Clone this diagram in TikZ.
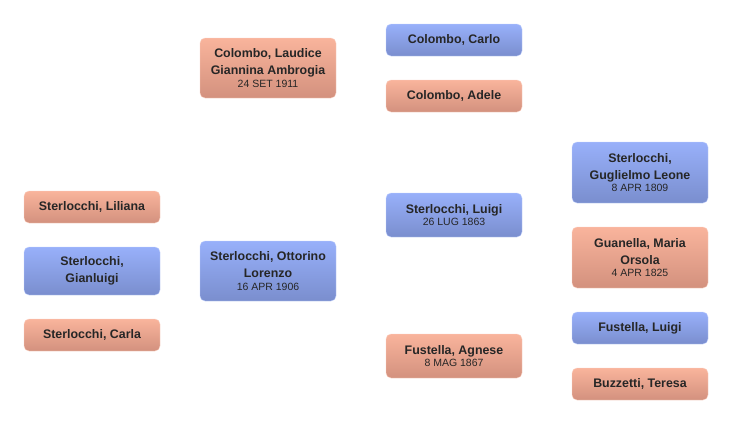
\documentclass[tikz,border=0pt]{standalone}
\usepackage{fontspec}
\setmainfont{Liberation Sans}
\begin{document}
\begin{tikzpicture}[x=1pt,y=-1pt,
  person/.style={rounded corners=5pt, minimum width=136pt, inner sep=0pt,
    align=center, font=\fontsize{12.4}{17}\selectfont\bfseries, text=black!85},
  male/.style={person, top color=mblueT, bottom color=mblueB, draw=mblueT!60!white, line width=0.4pt},
  female/.style={person, top color=fpinkT, bottom color=fpinkB, draw=fpinkT!60!white, line width=0.4pt}]
\definecolor{mblueT}{HTML}{98B0FA}
\definecolor{mblueB}{HTML}{7A8ECE}
\definecolor{fpinkT}{HTML}{F9B49C}
\definecolor{fpinkB}{HTML}{D3917E}
\newcommand{\dt}[1]{\\[-4.5pt]{\fontsize{10.5}{12}\selectfont\mdseries #1}}
\useasboundingbox (0,0) rectangle (732,424);
% column 1
\node[female, minimum height=32pt] (liliana) at (92,207) {Sterlocchi, Liliana};
\node[male, minimum height=48pt] (gianluigi) at (92,271) {Sterlocchi,\\Gianluigi};
\node[female, minimum height=32pt] (carla) at (92,335) {Sterlocchi, Carla};
% column 2
\node[female, minimum height=60pt] (laudice) at (268,68) {Colombo, Laudice\\Giannina Ambrogia\dt{24 SET 1911}};
\node[male, minimum height=60pt] (ottorino) at (268,271) {Sterlocchi, Ottorino\\Lorenzo\dt{16 APR 1906}};
% column 3
\node[male, minimum height=32pt] (carlo) at (454,40) {Colombo, Carlo};
\node[female, minimum height=32pt] (adele) at (454,96) {Colombo, Adele};
\node[male, minimum height=44pt] (luigi) at (454,215) {Sterlocchi, Luigi\dt{26 LUG 1863}};
\node[female, minimum height=44pt] (agnese) at (454,356) {Fustella, Agnese\dt{8 MAG 1867}};
% column 4
\node[male, minimum height=61pt] (guglielmo) at (640,172.5) {Sterlocchi,\\Guglielmo Leone\dt{8 APR 1809}};
\node[female, minimum height=61pt] (guanella) at (640,257.5) {Guanella, Maria\\Orsola\dt{4 APR 1825}};
\node[male, minimum height=32pt] (fluigi) at (640,328) {Fustella, Luigi};
\node[female, minimum height=32pt] (teresa) at (640,384) {Buzzetti, Teresa};
\end{tikzpicture}
\end{document}
